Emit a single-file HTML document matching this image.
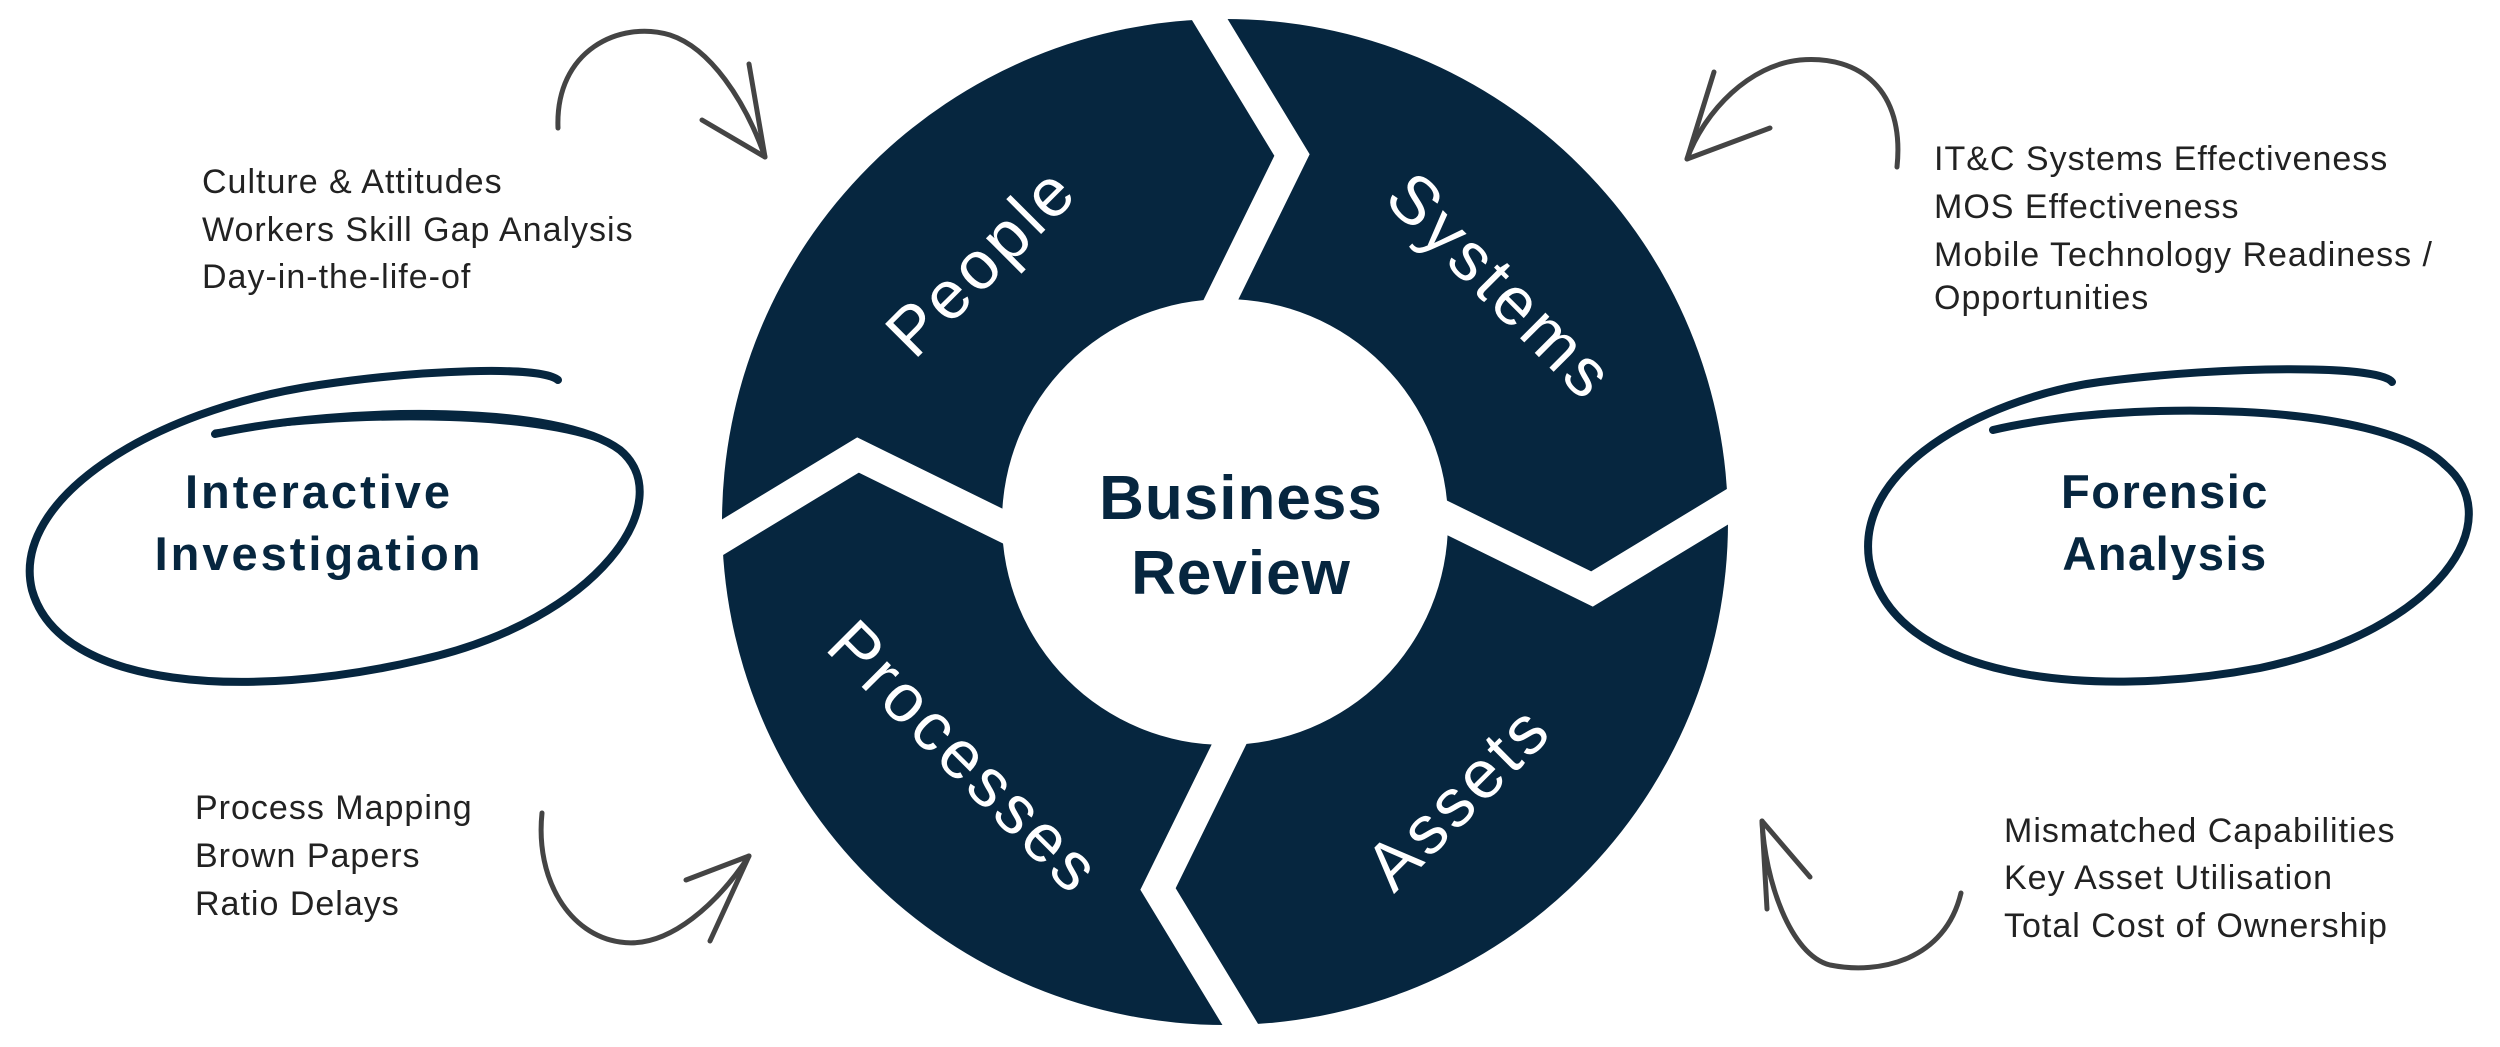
<!DOCTYPE html>
<html><head><meta charset="utf-8"><style>
html,body{margin:0;padding:0;background:#fff;}
svg{display:block;}
.t{font-family:"Liberation Sans",sans-serif;font-size:34px;fill:#222;letter-spacing:1px;}
.seg{font-family:"Liberation Sans",sans-serif;font-size:68px;fill:#fff;letter-spacing:4px;}
.b{font-family:"Liberation Sans",sans-serif;font-weight:bold;fill:#06263f;}
</style></head><body>
<svg width="2500" height="1047" viewBox="0 0 2500 1047" xmlns="http://www.w3.org/2000/svg">
<circle cx="1225" cy="522" r="503" fill="#06263f"/>
<g transform="translate(1225,522)" fill="none" stroke="#fff" stroke-width="31" stroke-linejoin="miter" stroke-miterlimit="10">
 <polyline points="-35,-535 67,-367 -15,-200"/>
 <polyline points="-35,-535 67,-367 -15,-200" transform="rotate(90)"/>
 <polyline points="-35,-535 67,-367 -15,-200" transform="rotate(180)"/>
 <polyline points="-35,-535 67,-367 -15,-200" transform="rotate(270)"/>
</g>
<circle cx="1225" cy="522" r="223" fill="#fff"/>
<text class="seg" text-anchor="middle" transform="translate(982,262) rotate(-45)" dy="22">People</text>
<text class="seg" text-anchor="middle" transform="translate(1500,287) rotate(45)" dy="22">Systems</text>
<text class="seg" text-anchor="middle" transform="translate(964,758) rotate(45)" dy="22">Processes</text>
<text class="seg" text-anchor="middle" transform="translate(1459,798) rotate(-45)" dy="22">Assets</text>
<text class="b" font-size="62" text-anchor="middle" x="1241" y="519" letter-spacing="1" style="font-weight:600">Business</text>
<text class="b" font-size="62" text-anchor="middle" x="1241" y="594" letter-spacing="1" style="font-weight:600">Review</text>

<path d="M215,434 C350,405 560,405 620,450 C680,500 600,620 420,660 C250,700 60,690 32,590 C10,500 150,410 319,385 C420,370 540,365 558,380" fill="none" stroke="#06263f" stroke-width="8" stroke-linecap="round"/>
<path d="M215,432 C350,412 520,412 600,440" fill="none" stroke="#06263f" stroke-width="5" stroke-linecap="round"/>
<path d="M1993,430 C2120,400 2380,400 2445,465 C2510,520 2440,630 2260,668 C2090,700 1890,680 1869,560 C1855,460 2000,395 2100,382 C2230,365 2380,365 2392,382" fill="none" stroke="#06263f" stroke-width="8" stroke-linecap="round"/>
<text class="b" font-size="47" text-anchor="middle" x="319" y="508" letter-spacing="3">Interactive</text>
<text class="b" font-size="47" text-anchor="middle" x="319" y="570" letter-spacing="3">Investigation</text>
<text class="b" font-size="47" text-anchor="middle" x="2165" y="508" letter-spacing="1.5">Forensic</text>
<text class="b" font-size="47" text-anchor="middle" x="2165" y="570" letter-spacing="1.5">Analysis</text>

<g class="t">
<text x="202" y="193">Culture &amp; Attitudes</text>
<text x="202" y="241">Workers Skill Gap Analysis</text>
<text x="202" y="288">Day-in-the-life-of</text>
<text x="195" y="819">Process Mapping</text>
<text x="195" y="867">Brown Papers</text>
<text x="195" y="915">Ratio Delays</text>
<text x="1934" y="170">IT&amp;C Systems Effectiveness</text>
<text x="1934" y="218">MOS Effectiveness</text>
<text x="1934" y="266">Mobile Technology Readiness /</text>
<text x="1934" y="309">Opportunities</text>
<text x="2004" y="842">Mismatched Capabilities</text>
<text x="2004" y="889">Key Asset Utilisation</text>
<text x="2004" y="937">Total Cost of Ownership</text>
</g>

<g fill="none" stroke="#444" stroke-width="5" stroke-linecap="round">
<path d="M558,128 C555,50 620,20 670,35 C710,48 745,100 765,157"/>
<path d="M765,157 L749,64 M765,157 L702,120"/>
<path d="M1897,167 C1905,90 1860,55 1800,60 C1750,65 1705,110 1687,159"/>
<path d="M1687,159 L1714,72 M1687,159 L1770,128"/>
<path d="M542,813 C535,880 570,935 620,942 C670,950 720,900 749,856"/>
<path d="M749,856 L686,880 M749,856 L710,941"/>
<path d="M1961,893 C1945,960 1880,975 1830,965 C1790,955 1765,880 1762,821"/>
<path d="M1762,821 L1767,909 M1762,821 L1810,877"/>
</g>
</svg>
</body></html>
